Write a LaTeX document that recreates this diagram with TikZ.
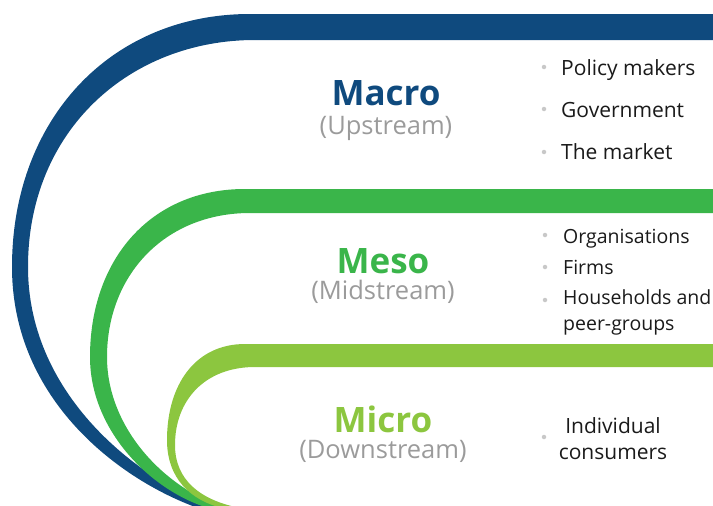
\documentclass[tikz,border=0pt]{standalone}
\usepackage{fontspec}
\setmainfont{Open Sans}
\usetikzlibrary{positioning}
\definecolor{macroblue}{HTML}{0F4A7E}
\definecolor{mesogreen}{HTML}{3AB54A}
\definecolor{microgreen}{HTML}{8CC63F}
\definecolor{subgrey}{HTML}{9B9B9B}
\definecolor{dotgrey}{HTML}{C8C8C8}
\definecolor{itemtext}{HTML}{1A1A1A}
\tikzset{
  leveltitle/.style={font=\fontsize{35}{40}\selectfont\bfseries, inner sep=0pt, anchor=base},
  levelsub/.style={font=\fontsize{25.5}{30}\selectfont, text=subgrey, inner sep=0pt},
  actor/.style={font=\fontsize{21}{26.5}\selectfont, text=itemtext, inner sep=0pt,
    anchor=base west},
  smallactor/.style={actor, font=\fontsize{19.5}{26}\selectfont},
  dotmark/.style={circle, fill=dotgrey, inner sep=0pt, minimum size=4.5pt}
}
\begin{document}
\begin{tikzpicture}[x=1pt, y=-1pt, node distance=6pt]
  \useasboundingbox (0,0) rectangle (713,506);
  % the three bands
  \begin{scope}
    \clip (0,0) rectangle (713,506);
    \fill[macroblue] (720,14) -- (250,14) .. controls (110,14) and (12,120) .. (12,267)
      .. controls (12,400) and (120,480) .. (198,508) -- (214,508)
      .. controls (130,475) and (28,390) .. (28,267)
      .. controls (28,130) and (130,40) .. (255,40) -- (720,40) -- cycle;
    \fill[mesogreen] (720,189) -- (245,189) .. controls (150,189) and (90,260) .. (90,357)
      .. controls (90,430) and (150,490) .. (208,508) -- (224,508)
      .. controls (160,485) and (107,425) .. (107,357)
      .. controls (107,275) and (165,213) .. (250,213) -- (720,213) -- cycle;
    \fill[microgreen] (720,344) -- (245,344) .. controls (195,344) and (167,385) .. (167,440)
      .. controls (167,478) and (190,500) .. (222,508) -- (240,508)
      .. controls (200,500) and (175,480) .. (175,445)
      .. controls (175,400) and (205,367) .. (255,367) -- (720,367) -- cycle;
  \end{scope}

  % level names
  \node[leveltitle, text=macroblue] (macro) at (386,105) {Macro};
  \node[levelsub, below=11pt of macro] (macrosub) {(Upstream)};
  \node[leveltitle, text=mesogreen] (meso) at (383,273) {Meso};
  \node[levelsub, below=of meso] (mesosub) {(Midstream)};
  \node[leveltitle, text=microgreen] (micro) at (383,432) {Micro};
  \node[levelsub, below=8pt of micro] (microsub) {(Downstream)};

  % who acts at each level
  \node[dotmark] (dpolicy) at (544,67) {};
  \node[actor] (policy) at (561,75.5) {Policy makers};
  \node[dotmark] (dgov) at (544,109) {};
  \node[actor] (gov) at (561,117) {Government};
  \node[dotmark] (dmarket) at (544,152) {};
  \node[actor] (market) at (561,159) {The market};

  \node[dotmark] (dorg) at (545,235) {};
  \node[smallactor] (org) at (563,243.5) {Organisations};
  \node[dotmark] (dfirm) at (545,267) {};
  \node[smallactor] (firm) at (563,274) {Firms};
  \node[dotmark] (dhouse) at (545,300) {};
  \node[smallactor, align=left, anchor=north west] (house) at (563,289) {Households and\\peer-groups};

  \node[dotmark] (dcons) at (544,437) {};
  \node[actor, align=center, anchor=north] (cons) at (613,417) {Individual\\consumers};
\end{tikzpicture}
\end{document}
